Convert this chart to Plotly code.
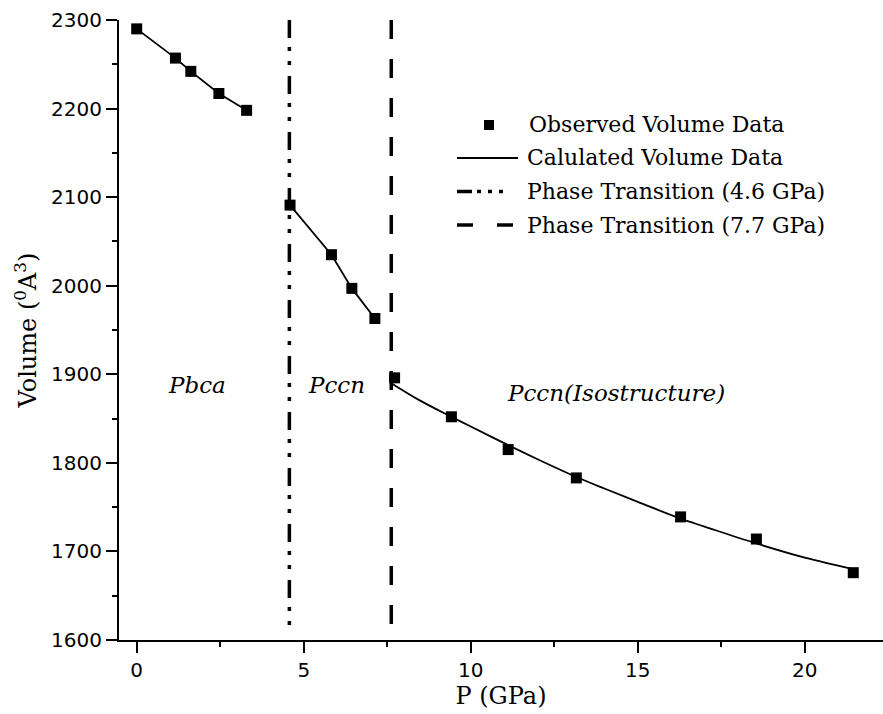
import plotly.graph_objects as go

# ---------------- data ----------------
obs_p = [0.0, 1.16, 1.62, 2.46, 3.29,
         4.59, 5.83, 6.44, 7.13,
         7.72, 9.42, 11.12, 13.16, 16.28, 18.55, 21.45]
obs_v = [2290, 2257, 2242, 2217, 2198,
         2091, 2035, 1997, 1963,
         1896, 1852, 1815, 1783, 1739, 1714, 1676]

calc_pbca_p = [0.0, 1.16, 1.62, 2.46, 3.29]
calc_pbca_v = [2290, 2257, 2242, 2217, 2198]
calc_pccn_p = [4.59, 5.83, 6.44, 7.13]
calc_pccn_v = [2091, 2035, 1997, 1963]
calc_iso_p = [7.62, 8.5, 9.42, 10.0, 11.12, 12.0, 13.16, 14.0, 15.0, 16.28, 17.0, 18.55, 20.0, 21.45]
calc_iso_v = [1890, 1870, 1852, 1841, 1820, 1804, 1784, 1771, 1756, 1737, 1728, 1709, 1693, 1680]

transition_p = [4.57, 7.62]
transition_v = [2300, 1610]

phase_labels = ["<i>Pbca</i>", "<i>Pccn</i>", "<i>Pccn(Isostructure)</i>"]
phase_label_p = [1.79, 5.99, 14.35]
phase_label_v = [1888, 1888, 1879]

legend_labels = ["Observed Volume Data", "Calulated Volume Data",
                 "Phase Transition (4.6 GPa)", "Phase Transition (7.7 GPa)"]

x_ticks = [0, 5, 10, 15, 20]
y_ticks = [1600, 1700, 1800, 1900, 2000, 2100, 2200, 2300]

# ---------------- styles ----------------
W, H = 883, 714
ML, MR, MT, MB = 119, 0, 20, 74
DASHDOT = "18px,9px,4px,10px,4px,11px"
DASH = "19px,20px"
SERIF = "DejaVu Serif"
SANS = "DejaVu Sans"

fig = go.Figure()

for px_, py_ in [(calc_pbca_p, calc_pbca_v), (calc_pccn_p, calc_pccn_v)]:
    fig.add_trace(go.Scatter(x=px_, y=py_, mode="lines",
                             line=dict(color="black", width=1.8), showlegend=False))
fig.add_trace(go.Scatter(x=calc_iso_p, y=calc_iso_v, mode="lines",
                         line=dict(color="black", width=1.8, shape="spline"), showlegend=False))

fig.add_trace(go.Scatter(x=[transition_p[0]] * 2, y=transition_v, mode="lines",
                         line=dict(color="black", width=3.5, dash=DASHDOT), showlegend=False))
fig.add_trace(go.Scatter(x=[transition_p[1]] * 2, y=transition_v, mode="lines",
                         line=dict(color="black", width=3.5, dash=DASH), showlegend=False))

fig.add_trace(go.Scatter(x=obs_p, y=obs_v, mode="markers",
                         marker=dict(symbol="square", size=11, color="black",
                                     line=dict(width=0)),
                         showlegend=False, cliponaxis=False))

# phase labels
for t, xx, yy in zip(phase_labels, phase_label_p, phase_label_v):
    fig.add_annotation(x=xx, y=yy, text=t, showarrow=False,
                       font=dict(family=SERIF, size=23, color="black"),
                       xanchor="center", yanchor="middle")

# custom legend (paper coordinates)
pw = W - ML - MR
ph = H - MT - MB
def px2paper(x):
    return (x - ML) / pw
def py2paper(y):
    return (H - MB - y) / ph

rows_y = [125, 158, 191.5, 225]
line_x0, line_x1, text_x = 457, 518, 525

fig.add_shape(type="rect", xref="paper", yref="paper",
              x0=px2paper(484), x1=px2paper(494),
              y0=py2paper(rows_y[0] + 5), y1=py2paper(rows_y[0] - 5),
              fillcolor="black", line=dict(width=0))
fig.add_shape(type="line", xref="paper", yref="paper",
              x0=px2paper(line_x0), x1=px2paper(line_x1),
              y0=py2paper(rows_y[1]), y1=py2paper(rows_y[1]),
              line=dict(color="black", width=1.8))
fig.add_shape(type="line", xref="paper", yref="paper",
              x0=px2paper(line_x0), x1=px2paper(line_x1),
              y0=py2paper(rows_y[2]), y1=py2paper(rows_y[2]),
              line=dict(color="black", width=3.5, dash="15px,5px,4px,7px,4px,7px,4px,20px"))
fig.add_shape(type="line", xref="paper", yref="paper",
              x0=px2paper(line_x0), x1=px2paper(line_x1),
              y0=py2paper(rows_y[3]), y1=py2paper(rows_y[3]),
              line=dict(color="black", width=3.5, dash="16px,24px"))

for i, (lab, ry) in enumerate(zip(legend_labels, rows_y)):
    fig.add_annotation(xref="paper", yref="paper",
                       x=px2paper(text_x + (2 if i == 0 else 0)), y=py2paper(ry),
                       text=lab, showarrow=False, xanchor="left", yanchor="middle",
                       font=dict(family=SERIF, size=22, color="black"))

axis_common = dict(showgrid=False, zeroline=False, showline=True, linecolor="black",
                   linewidth=2, ticks="outside", ticklen=11, tickwidth=2, tickcolor="black",
                   mirror=False,
                   tickfont=dict(family=SANS, size=20, color="black"))

fig.update_xaxes(range=[-0.53, 22.34], tickvals=x_ticks, ticktext=[str(v) for v in x_ticks],
                 minor=dict(dtick=2.5, tick0=0, ticklen=5, tickwidth=2, tickcolor="black", ticks="outside"),
                 title=dict(text="P (GPa)", font=dict(family=SERIF, size=24, color="black"), standoff=6),
                 **axis_common)
fig.update_yaxes(range=[1600, 2300], tickvals=y_ticks, ticktext=[str(v) for v in y_ticks],
                 minor=dict(dtick=50, tick0=1600, ticklen=5, tickwidth=2, tickcolor="black", ticks="outside"),
                 title=dict(text="Volume (<sup>0</sup>A<sup>3</sup>)",
                            font=dict(family=SERIF, size=24, color="black"), standoff=8),
                 **axis_common)

fig.update_layout(width=W, height=H, margin=dict(l=ML, r=MR, t=MT, b=MB, pad=0),
                  plot_bgcolor="white", paper_bgcolor="white", showlegend=False)

fig.write_html("out.html", config={"displayModeBar": False},
               post_script="document.body.style.margin='0';document.body.style.padding='0';"
                           "document.documentElement.style.overflow='hidden';")
